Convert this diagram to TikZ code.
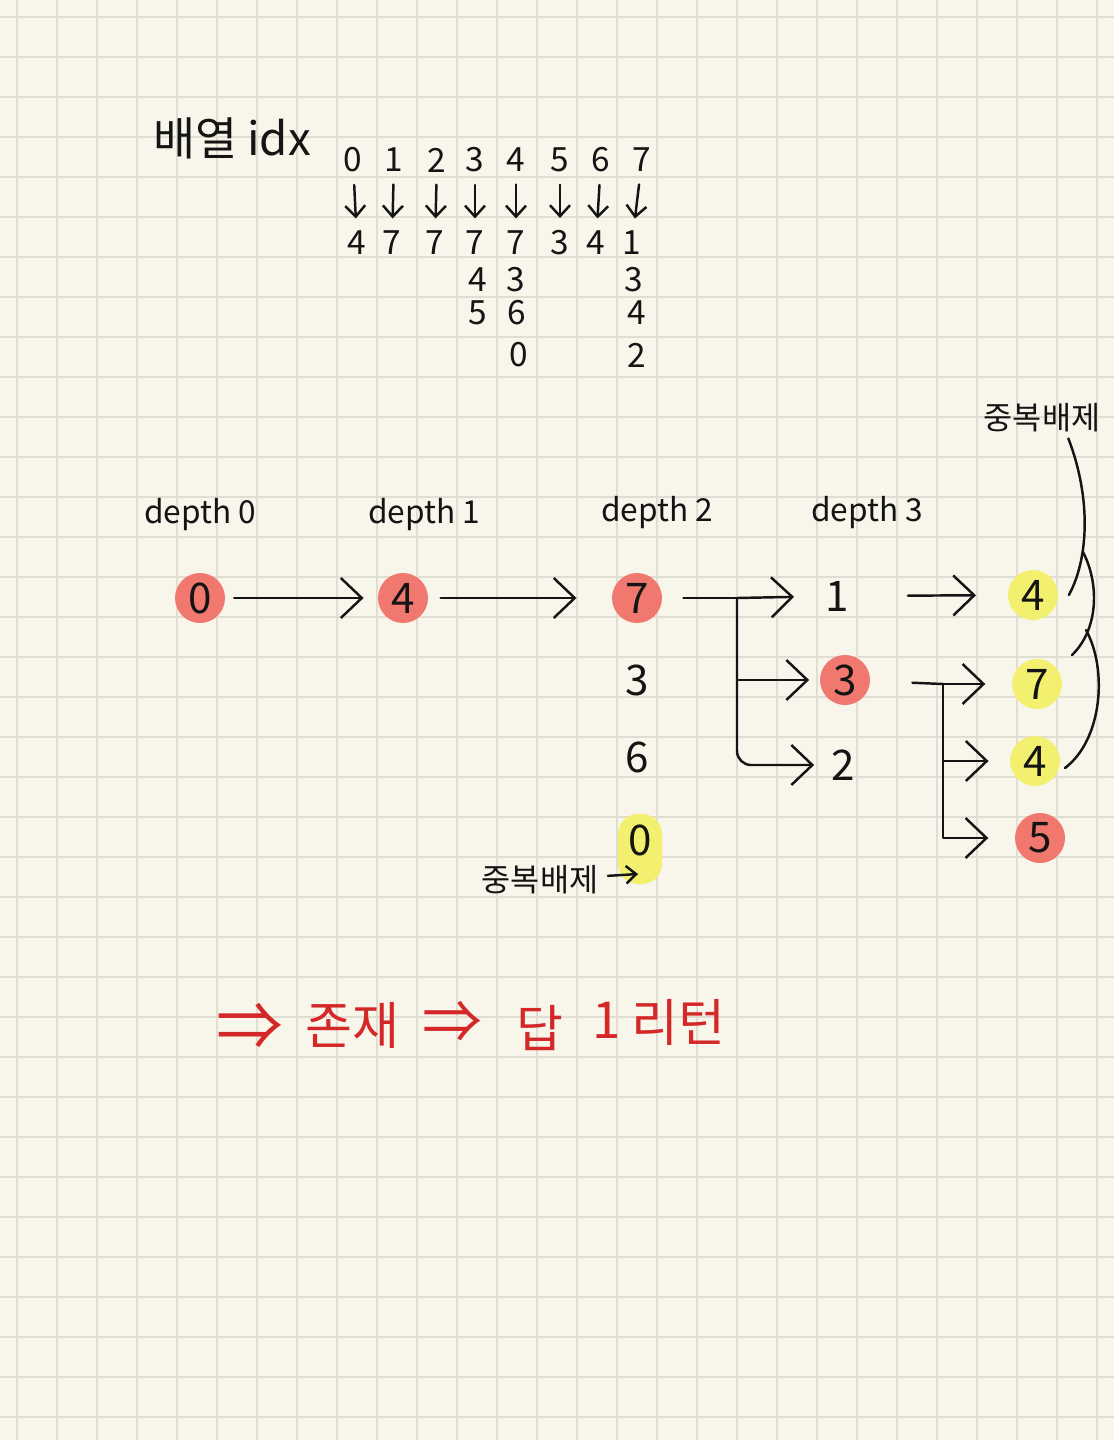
\documentclass[tikz,border=0pt]{standalone}
\usepackage{fontspec}
\setmainfont{Noto Sans CJK KR}
\usetikzlibrary{arrows.meta}
\definecolor{paper}{RGB}{248,246,235}
\definecolor{gridc}{RGB}{224,221,210}
\definecolor{hlred}{RGB}{240,120,110}
\definecolor{hlyel}{RGB}{242,240,110}
\definecolor{ink}{RGB}{20,20,20}
\definecolor{redink}{RGB}{212,40,40}
\tikzset{
  vert/.style={font=\fontsize{24}{24}\selectfont, circle, minimum size=1cm, inner sep=0pt, text=ink},
  redhl/.style={vert, fill=hlred},
  yelhl/.style={vert, fill=hlyel},
  idxnum/.style={font=\fontsize{19}{19}\selectfont, inner sep=1pt, text=ink},
  lbl/.style={font=\fontsize{18}{18}\selectfont, text=ink},
  kor/.style={font=\fontsize{18}{18}\selectfont, text=ink},
  redtxt/.style={font=\fontsize{29}{29}\selectfont, text=redink},
  pen/.style={ink, line width=1.4pt, line cap=round, line join=round},
  flow/.style={pen, -{Straight Barb[length=0.42cm,width=0.8cm]}},
  downarr/.style={pen, -{Straight Barb[length=0.22cm,width=0.4cm]}},
  smallarr/.style={pen, -{Straight Barb[length=0.2cm,width=0.35cm]}},
}
\begin{document}
\begin{tikzpicture}[x=0.02cm,y=-0.02cm]
\useasboundingbox (0,0) rectangle (1114,1440);
% paper and grid
\fill[paper] (0,0) rectangle (1114,1440);
\foreach \g in {17,57,...,1097} \draw[gridc,line width=1pt] (\g,0) -- (\g,1440);
\foreach \g in {17,57,...,1417} \draw[gridc,line width=1pt] (0,\g) -- (1114,\g);

% array idx table
\node[font=\fontsize{26}{26}\selectfont, text=ink] (title) at (232,138) {배열 idx};
\foreach \i/\x/\v/\vx in {0/353/4/357, 1/394/7/392, 2/437/7/435, 3/475/7/475,
                          4/516/7/516, 5/560/3/560, 6/601/4/596, 7/642/1/632} {
  \node[idxnum] (i\i) at (\x,160) {\i};
  \node[idxnum] (v\i) at (\vx,243) {\v};
  \draw[downarr,shorten <=6pt,shorten >=6pt] (i\i) -- (v\i);
}
\foreach \n/\x/\y/\v in {a/478/280/4, b/516/280/3, c/634/280/3, d/478/313/5,
                         e/517/313/6, f/637/313/4, g/519/355/0, h/637/355/2}
  \node[idxnum] (x\n) at (\x,\y) {\v};

% depth labels
\node[lbl] (dl0) at (200,515) {depth 0};
\node[lbl] (dl1) at (424,515) {depth 1};
\node[lbl] (dl2) at (657,513) {depth 2};
\node[lbl] (dl3) at (867,513) {depth 3};

% depth 0 - 2
\fill[hlyel,rounded corners=0.4cm] (618,814) rectangle (662,884);
\node[redhl] (n0) at (200,598) {0};
\node[redhl] (n1) at (403,598) {4};
\node[redhl] (n2) at (637,598) {7};
\node[vert] (c3) at (637,680) {3};
\node[vert] (c6) at (637,757) {6};
\node[vert] (c0) at (640,840) {0};
% depth 3
\node[vert] (m1) at (837,596) {1};
\node[redhl] (m2) at (845,680) {3};
\node[vert] (m3) at (843,765) {2};
% next
\node[yelhl] (o1) at (1033,595) {4};
\node[yelhl] (o2) at (1037,684) {7};
\node[yelhl] (o3) at (1035,761) {4};
\node[redhl] (o4) at (1040,838) {5};

\draw[flow,shorten <=5pt,shorten >=8pt] (n0) -- (n1);
\draw[flow,shorten <=7pt,shorten >=20pt] (n1) -- (n2);
\coordinate (br1) at (737,598);
\draw[pen,shorten <=12pt] (n2) -- (br1);
\draw[flow,shorten >=10pt] (br1) -- (m1);
\draw[flow,shorten >=6pt] (br1) |- (m2);
\draw[flow,shorten >=2pt,rounded corners=8pt] (br1) |- (m3);
\draw[flow,shorten <=26pt,shorten >=18pt] (m1) -- (o1);
\coordinate (br2) at (943,684);
\draw[pen,shorten <=24pt] (m2) -- (br2);
\draw[flow,shorten >=15pt] (br2) -- (o2);
\draw[flow,shorten >=12pt] (br2) |- (o3);
\draw[flow,shorten >=15pt] (br2) |- (o4);

% duplicates
\node[kor] (dup1) at (540,880) {중복배제};
\coordinate (dupend) at (638,874);
\draw[smallarr,shorten <=2pt] (dup1) -- (dupend);
\node[kor] (dup2) at (1042,418) {중복배제};
\draw[pen] ([xshift=15pt]dup2.south) .. controls (1092,500) and (1088,560) .. ([xshift=6pt]o1.east);
\draw[pen] ([shift={(50,-43)}]o1.center) .. controls (1100,585) and (1098,630) .. ([shift={(35,-29)}]o2.center);
\draw[pen] ([shift={(49,-54)}]o2.center) .. controls (1108,670) and (1102,740) .. ([shift={(30,7)}]o3.center);

% result
\node[redtxt,font=\fontsize{38}{38}\selectfont] (r1) at (250,1027) {⇒};
\node[redtxt] (r2) at (352,1025) {존재};
\node[redtxt,font=\fontsize{34}{34}\selectfont] (r3) at (452,1022) {⇒};
\node[redtxt] (r4) at (540,1028) {답};
\node[redtxt] (r5) at (607,1020) {1};
\node[redtxt] (r6) at (678,1022) {리턴};
\end{tikzpicture}
\end{document}
